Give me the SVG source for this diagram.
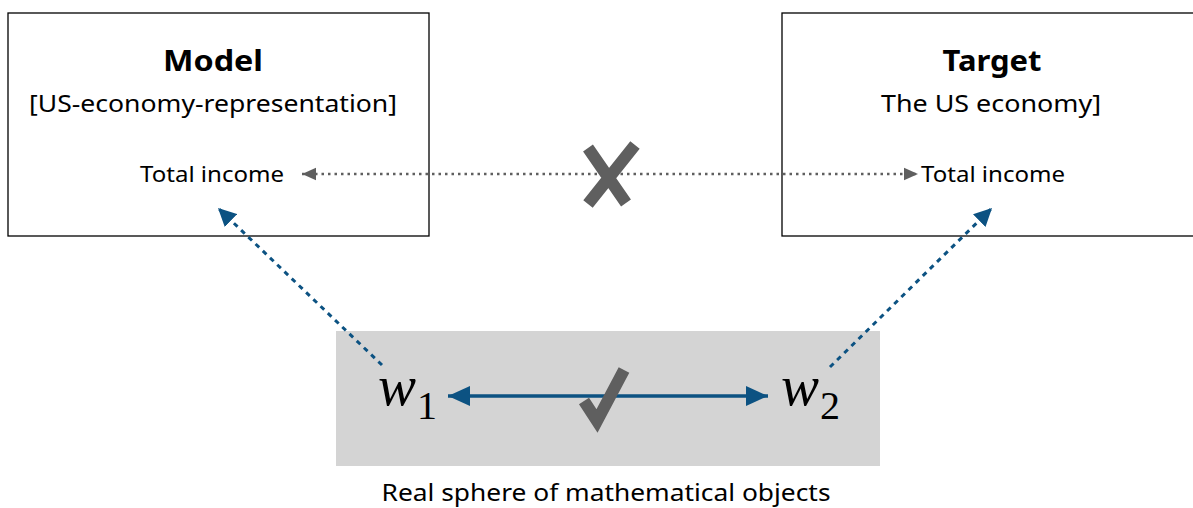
<svg xmlns="http://www.w3.org/2000/svg" width="1193" height="508" viewBox="0 0 1193 508">
<style>
.box{fill:#fff;stroke:#000;stroke-width:1.3}
.t{font-family:"Noto Sans","Open Sans",sans-serif;fill:#000;text-anchor:middle}
.h{font-size:29px;font-weight:bold}
.s{font-size:23px}
.ti{font-size:21px}
.m{font-family:"Liberation Serif",serif;fill:#000;font-size:57px}
.sub{font-size:40px;font-style:normal}
.gray{stroke:#5f5f5f;stroke-width:2.5;stroke-dasharray:2.5 4;fill:none}
.blued{stroke:#0c5282;stroke-width:3;stroke-dasharray:5 5;fill:none}
.blue{stroke:#0c5282;stroke-width:3.5;fill:none}
.mark{stroke:#5f5f5f;stroke-width:12;fill:none}
</style>
<defs>
<marker id="ag" viewBox="0 0 10 10" refX="10" refY="5" markerWidth="14" markerHeight="14" markerUnits="userSpaceOnUse" orient="auto-start-reverse"><path d="M0,0.5L10,5L0,9.5z" fill="#5f5f5f"/></marker>
<marker id="ab" viewBox="0 0 10 10" refX="10" refY="5" markerWidth="6" markerHeight="6" orient="auto"><path d="M0,0L10,5L0,10z" fill="#0c5282"/></marker>
<marker id="ab2" viewBox="0 0 10 10" refX="10" refY="5" markerWidth="22" markerHeight="22" markerUnits="userSpaceOnUse" orient="auto-start-reverse"><path d="M0,0.5L10,5L0,9.5z" fill="#0c5282"/></marker>
</defs>
<g id="model">
<rect class="box" x="8" y="13" width="421" height="223"/>
<text class="t h" x="213" y="71" textLength="100" lengthAdjust="spacingAndGlyphs">Model</text>
<text class="t s" x="213" y="112" textLength="368" lengthAdjust="spacingAndGlyphs">[US-economy-representation]</text>
<text class="t ti" x="212" y="182" textLength="144" lengthAdjust="spacingAndGlyphs">Total income</text>
</g>
<g id="target">
<rect class="box" x="782" y="13" width="420" height="223"/>
<text class="t h" x="992" y="71" textLength="99" lengthAdjust="spacingAndGlyphs">Target</text>
<text class="t s" x="991" y="112" textLength="220" lengthAdjust="spacingAndGlyphs">The US economy]</text>
<text class="t ti" x="993" y="182" textLength="144" lengthAdjust="spacingAndGlyphs">Total income</text>
</g>
<g id="sphere">
<rect x="336" y="331" width="544" height="135" fill="#d4d4d4"/>
<text class="m" x="378" y="405"><tspan font-style="italic">w</tspan><tspan class="sub" x="417" y="419">1</tspan></text>
<text class="m" x="781" y="405"><tspan font-style="italic">w</tspan><tspan class="sub" x="820" y="419">2</tspan></text>
</g>
<g id="connectors">
<line class="gray" x1="302" y1="174" x2="918" y2="174" marker-start="url(#ag)" marker-end="url(#ag)"/>
<path class="mark" d="M588,148 L626,203 M635,145 L588,204" stroke-linecap="butt"/>
<line class="blued" x1="382" y1="365" x2="218" y2="208" marker-end="url(#ab)"/>
<line class="blued" x1="830" y1="367" x2="992" y2="208" marker-end="url(#ab)"/>
<line class="blue" x1="448" y1="396" x2="768" y2="396" marker-start="url(#ab2)" marker-end="url(#ab2)"/>
<path class="mark" d="M584,401 L597,421 L624,370" stroke-linejoin="miter" stroke-linecap="butt"/>
</g>
<text class="t s" x="606" y="501" textLength="449" lengthAdjust="spacingAndGlyphs">Real sphere of mathematical objects</text>
</svg>
